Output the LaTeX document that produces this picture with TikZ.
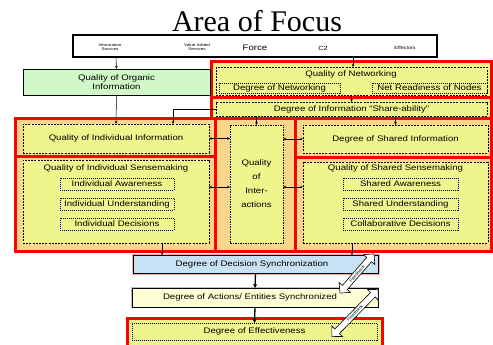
\documentclass[tikz,border=0pt]{standalone}
\usepackage{fontspec}
\setmainfont[FakeStretch=1.2]{Liberation Sans}
\newfontfamily\titlefont{Liberation Serif}
\usetikzlibrary{shapes.arrows,arrows.meta}
\definecolor{frred}{RGB}{255,0,0}
\definecolor{frfill}{RGB}{250,214,140}
\definecolor{boxfill}{RGB}{240,244,140}
\definecolor{orgfill}{RGB}{208,248,200}
\definecolor{decfill}{RGB}{200,226,245}
\definecolor{actfill}{RGB}{255,255,214}
\newcommand\lblfont{\fontsize{8}{9}\selectfont}
\begin{document}
\begin{tikzpicture}[x=1pt,y=-1pt,
  box/.style={rectangle, inner sep=0pt, outer sep=0pt, anchor=center, font=\lblfont},
  frame/.style={draw=frred, line width=3pt, fill=frfill},
  dbox/.style={box, draw=black, line width=0.6pt, dash pattern=on 2pt off 1.2pt, fill=boxfill},
  sbox/.style={box, draw=black, line width=0.6pt, dash pattern=on 1pt off 1pt, fill=boxfill},
  lbl/.style={inner sep=0pt, font=\lblfont},
  conn/.style={draw, line width=0.5pt, -{Stealth[length=3pt,width=2.6pt]}},
  dconn/.style={draw, line width=0.5pt, {Stealth[length=3pt,width=2.6pt]}-{Stealth[length=3pt,width=2.6pt]}},
  mainconn/.style={draw, line width=1.3pt, -{Stealth[length=4pt,width=4pt]}},
  fat/.style={double arrow, draw=black, line width=0.6pt, fill=white, inner sep=0.5pt,
    minimum width=15pt, double arrow head extend=3pt, font=\fontsize{4}{4.5}\selectfont}
]
\useasboundingbox (0,0) rectangle (493,345);

% title
\node[font=\titlefont\fontsize{30}{32}\selectfont] (title) at (257,21) {Area of Focus};

% top bar with the force elements
\node[box, draw=black, line width=1.6pt, fill=white, minimum width=364, minimum height=22] (topbar) at (255,46) {};
\node[lbl, align=center, font=\fontsize{3.8}{4.2}\selectfont] (src) at (110,47) {Information\\Sources};
\node[lbl, align=center, font=\fontsize{3.8}{4.2}\selectfont] (vas) at (197,47) {Value Added\\Services};
\node[lbl, font=\fontsize{8}{9}\selectfont] (force) at (255,48) {Force};
\node[lbl, font=\fontsize{6}{7}\selectfont] (ctwo) at (323,48) {C2};
\node[lbl, font=\fontsize{4.5}{5}\selectfont] (eff) at (405,48) {Effectors};

% red frames
\draw[frame, fill=boxfill] (211,62) rectangle (491,98);
\draw[frame, fill=boxfill] (211,98) rectangle (491,118);
\draw[frame] (15,118) rectangle (215,156);
\draw[frame] (15,156) rectangle (215,251);
\draw[frame] (215,118) rectangle (295,251);
\draw[frame] (295,118) rectangle (491,157);
\draw[frame] (295,157) rectangle (491,251);
\draw[frame, fill=boxfill] (127,318) rectangle (382,346);

% organic information
\node[box, draw=black, line width=0.8pt, fill=orgfill, minimum width=187, minimum height=26, align=center] (organic) at (116.5,82) {Quality of Organic\\Information};

% networking
\node[dbox, minimum width=271, minimum height=28] (netdash) at (351.5,81) {};
\node[lbl] (netlbl) at (351,74.5) {Quality of Networking};
\node[sbox, minimum width=121, minimum height=10] (degnet) at (279.5,88) {Degree of Networking};
\node[sbox, minimum width=115, minimum height=10] (netready) at (429.5,88) {Net Readiness of Nodes};
\node[dbox, minimum width=271, minimum height=14] (share) at (351.5,109) {Degree of Information ``Share-ability''};

% individual column
\node[dbox, minimum width=186, minimum height=29] (indinfo) at (116,138.5) {Quality of Individual Information};
\node[dbox, minimum width=186, minimum height=83] (indsense) at (116,201.5) {};
\node[lbl] (indsenselbl) at (116,168) {Quality of Individual Sensemaking};
\node[sbox, minimum width=114, minimum height=12] (indaware) at (117,184) {Individual Awareness};
\node[sbox, minimum width=114, minimum height=12] (indunder) at (117,204) {Individual Understanding};
\node[sbox, minimum width=114, minimum height=12] (inddec) at (117,224) {Individual Decisions};

% interactions
\node[box, draw=black, line width=0.6pt, dash pattern=on 1.5pt off 1pt, fill=boxfill, minimum width=53, minimum height=118, align=center, font=\fontsize{8}{14}\selectfont] (interact) at (256.5,184) {Quality\\of\\Inter-\\actions};

% shared column
\node[dbox, minimum width=185, minimum height=28] (sharedinfo) at (395.5,139) {Degree of Shared Information};
\node[dbox, minimum width=185, minimum height=81] (sharedsense) at (395.5,202.5) {};
\node[lbl] (sharedsenselbl) at (395.5,168) {Quality of Shared Sensemaking};
\node[sbox, minimum width=115, minimum height=12] (shaware) at (400.5,184) {Shared Awareness};
\node[sbox, minimum width=115, minimum height=12] (shunder) at (400.5,204) {Shared Understanding};
\node[sbox, minimum width=115, minimum height=12] (collab) at (400.5,224) {Collaborative Decisions};

% synchronization and effectiveness
\node[box, draw=black, line width=0.8pt, fill=decfill, preaction={draw=red!35, line width=3pt}, minimum width=245, minimum height=18] (decision) at (255.5,264) {};
\node[lbl] (decisionlbl) at (252,264) {Degree of Decision Synchronization};
\node[box, draw=black, line width=0.8pt, fill=actfill, preaction={draw=black!25, line width=2.5pt}, minimum width=246, minimum height=19] (actions) at (255,297.5) {};
\node[lbl] (actionslbl) at (250,297.5) {Degree of Actions/ Entities Synchronized};
\node[dbox, dash pattern=on 1pt off 1pt, minimum width=245, minimum height=17] (effect) at (254.5,331.5) {};
\node[lbl] (effectlbl) at (254.5,331.5) {Degree of Effectiveness};

% connectors
\coordinate (tbA) at (116,57);
\coordinate (tbB) at (353,57);
\draw[conn] (tbA) -- (organic.north);
\draw[conn] (tbB) -- (tbB |- netdash.north);
\draw[conn] (organic.south) -- (indinfo.north);
\draw[conn] (netdash.south) -- (share.north);
\coordinate (iiTop) at (173,124);
\draw[conn] (share.west) -| (iiTop);
\draw[conn] (share.south -| interact.north) -- (interact.north);
\draw[conn] (share.south -| sharedinfo.north) -- (sharedinfo.north);
\draw[dconn] (indinfo.east) -- (indinfo.east -| interact.west);
\coordinate (isE) at (209,187);
\draw[dconn] (isE) -- (isE -| interact.west);
\draw[dconn] (interact.east |- sharedinfo.west) -- (sharedinfo.west);
\coordinate (ssW) at (303,187);
\draw[dconn] (ssW -| interact.east) -- (ssW);
\coordinate (isB) at (162,243);
\coordinate (ssB) at (352,243);
\draw[conn] (isB) -- (isB |- decision.north);
\draw[conn] (ssB) -- (ssB |- decision.north);
\draw[mainconn] (decision.south) -- (actions.north);
\draw[mainconn] (actions.south) -- (effect.north);

% feedback arrows
\node[fat, minimum height=52, rotate=49] (fbA) at (357,273.5) {Feedback};
\node[fat, minimum height=66, rotate=45.6] (fbB) at (355,313) {Feedback};
\end{tikzpicture}
\end{document}
